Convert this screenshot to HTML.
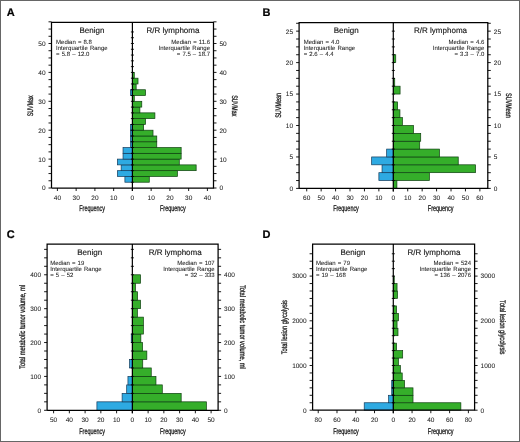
<!DOCTYPE html>
<html><head><meta charset="utf-8"><style>
html,body{margin:0;padding:0;background:#fff;}
svg{display:block;will-change:transform;}
text{font-family:"Liberation Sans", sans-serif;fill:#1a1a1a;stroke:#1a1a1a;stroke-width:0.15px;text-rendering:geometricPrecision;}
.t{font-size:6.5px;stroke-width:0.05px;}
.s{font-size:6px;word-spacing:0.45px;stroke-width:0.05px;}
.h{font-size:8px;}
.c{font-size:8.3px;stroke-width:0.3px;}
.yt{font-size:8px;stroke-width:0.3px;}
.L{font-size:11px;font-weight:bold;fill:#000;stroke:#000;stroke-width:0.2px;}
</style></head><body>
<svg width="520" height="442" viewBox="0 0 520 442">
<defs><filter id="bl" x="0" y="0" width="520" height="442" filterUnits="userSpaceOnUse"><feGaussianBlur stdDeviation="0.25"/></filter></defs>
<g filter="url(#bl)">
<rect x="0.5" y="0.5" width="519" height="441" fill="#fff" stroke="#666" stroke-width="1"/>
<rect x="124.9" y="176.44" width="7.5" height="5.78" fill="#2eaae2" stroke="#143a5a" stroke-width="0.7"/>
<rect x="117.4" y="170.66" width="15" height="5.78" fill="#2eaae2" stroke="#143a5a" stroke-width="0.7"/>
<rect x="121.15" y="164.88" width="11.25" height="5.78" fill="#2eaae2" stroke="#143a5a" stroke-width="0.7"/>
<rect x="117.4" y="159.1" width="15" height="5.78" fill="#2eaae2" stroke="#143a5a" stroke-width="0.7"/>
<rect x="123.03" y="153.32" width="9.38" height="5.78" fill="#2eaae2" stroke="#143a5a" stroke-width="0.7"/>
<rect x="123.03" y="147.54" width="9.38" height="5.78" fill="#2eaae2" stroke="#143a5a" stroke-width="0.7"/>
<rect x="130.53" y="141.76" width="1.88" height="5.78" fill="#2eaae2" stroke="#143a5a" stroke-width="0.7"/>
<rect x="130.53" y="135.98" width="1.88" height="5.78" fill="#2eaae2" stroke="#143a5a" stroke-width="0.7"/>
<rect x="130.53" y="130.2" width="1.88" height="5.78" fill="#2eaae2" stroke="#143a5a" stroke-width="0.7"/>
<rect x="130.53" y="124.42" width="1.88" height="5.78" fill="#2eaae2" stroke="#143a5a" stroke-width="0.7"/>
<rect x="130.53" y="89.74" width="1.88" height="5.78" fill="#2eaae2" stroke="#143a5a" stroke-width="0.7"/>
<rect x="132.4" y="176.44" width="16.88" height="5.78" fill="#34ae2c" stroke="#0f3f0f" stroke-width="0.7"/>
<rect x="132.4" y="170.66" width="45" height="5.78" fill="#34ae2c" stroke="#0f3f0f" stroke-width="0.7"/>
<rect x="132.4" y="164.88" width="63.75" height="5.78" fill="#34ae2c" stroke="#0f3f0f" stroke-width="0.7"/>
<rect x="132.4" y="159.1" width="46.88" height="5.78" fill="#34ae2c" stroke="#0f3f0f" stroke-width="0.7"/>
<rect x="132.4" y="153.32" width="48.75" height="5.78" fill="#34ae2c" stroke="#0f3f0f" stroke-width="0.7"/>
<rect x="132.4" y="147.54" width="48.75" height="5.78" fill="#34ae2c" stroke="#0f3f0f" stroke-width="0.7"/>
<rect x="132.4" y="141.76" width="24.38" height="5.78" fill="#34ae2c" stroke="#0f3f0f" stroke-width="0.7"/>
<rect x="132.4" y="135.98" width="24.38" height="5.78" fill="#34ae2c" stroke="#0f3f0f" stroke-width="0.7"/>
<rect x="132.4" y="130.2" width="20.62" height="5.78" fill="#34ae2c" stroke="#0f3f0f" stroke-width="0.7"/>
<rect x="132.4" y="124.42" width="11.25" height="5.78" fill="#34ae2c" stroke="#0f3f0f" stroke-width="0.7"/>
<rect x="132.4" y="118.64" width="13.12" height="5.78" fill="#34ae2c" stroke="#0f3f0f" stroke-width="0.7"/>
<rect x="132.4" y="112.86" width="22.5" height="5.78" fill="#34ae2c" stroke="#0f3f0f" stroke-width="0.7"/>
<rect x="132.4" y="107.08" width="7.5" height="5.78" fill="#34ae2c" stroke="#0f3f0f" stroke-width="0.7"/>
<rect x="132.4" y="101.3" width="9.38" height="5.78" fill="#34ae2c" stroke="#0f3f0f" stroke-width="0.7"/>
<rect x="132.4" y="95.52" width="1.88" height="5.78" fill="#34ae2c" stroke="#0f3f0f" stroke-width="0.7"/>
<rect x="132.4" y="89.74" width="13.12" height="5.78" fill="#34ae2c" stroke="#0f3f0f" stroke-width="0.7"/>
<rect x="132.4" y="83.96" width="3.75" height="5.78" fill="#34ae2c" stroke="#0f3f0f" stroke-width="0.7"/>
<rect x="132.4" y="78.18" width="5.62" height="5.78" fill="#34ae2c" stroke="#0f3f0f" stroke-width="0.7"/>
<rect x="132.4" y="72.4" width="1.88" height="5.78" fill="#34ae2c" stroke="#0f3f0f" stroke-width="0.7"/>
<path d="M51.5 188V22.3H213.5V188H51.5" fill="none" stroke="#000" stroke-width="1.25"/>
<path d="M132.4 22.3V191" fill="none" stroke="#000" stroke-width="1.2"/>
<path d="M48.5 188H51.5M213.5 188H216.5M48.5 180.78H51.5M213.5 180.78H216.5M48.5 173.55H51.5M213.5 173.55H216.5M48.5 166.32H51.5M213.5 166.32H216.5M48.5 159.1H51.5M213.5 159.1H216.5M48.5 151.88H51.5M213.5 151.88H216.5M48.5 144.65H51.5M213.5 144.65H216.5M48.5 137.43H51.5M213.5 137.43H216.5M48.5 130.2H51.5M213.5 130.2H216.5M48.5 122.97H51.5M213.5 122.97H216.5M48.5 115.75H51.5M213.5 115.75H216.5M48.5 108.52H51.5M213.5 108.52H216.5M48.5 101.3H51.5M213.5 101.3H216.5M48.5 94.08H51.5M213.5 94.08H216.5M48.5 86.85H51.5M213.5 86.85H216.5M48.5 79.62H51.5M213.5 79.62H216.5M48.5 72.4H51.5M213.5 72.4H216.5M48.5 65.17H51.5M213.5 65.17H216.5M48.5 57.95H51.5M213.5 57.95H216.5M48.5 50.72H51.5M213.5 50.72H216.5M48.5 43.5H51.5M213.5 43.5H216.5M48.5 36.28H51.5M213.5 36.28H216.5M48.5 29.05H51.5M213.5 29.05H216.5M48.5 21.82H51.5M213.5 21.82H216.5M130.9 182.22H133.9M130.9 176.44H133.9M130.9 170.66H133.9M130.9 164.88H133.9M130.9 159.1H133.9M130.9 153.32H133.9M130.9 147.54H133.9M130.9 141.76H133.9M130.9 135.98H133.9M130.9 130.2H133.9M130.9 124.42H133.9M130.9 118.64H133.9M130.9 112.86H133.9M130.9 107.08H133.9M130.9 101.3H133.9M130.9 95.52H133.9M130.9 89.74H133.9M130.9 83.96H133.9M130.9 78.18H133.9M130.9 72.4H133.9M130.9 66.62H133.9M130.9 60.84H133.9M130.9 55.06H133.9M130.9 49.28H133.9M130.9 43.5H133.9M130.9 37.72H133.9M130.9 31.94H133.9M57.4 188V191M76.15 188V191M94.9 188V191M113.65 188V191M132.4 188V191M151.15 188V191M169.9 188V191M188.65 188V191M207.4 188V191" fill="none" stroke="#000" stroke-width="0.9"/>
<text x="45.5" y="190" text-anchor="end" class="t">0</text>
<text x="219.5" y="190" class="t">0</text>
<text x="45.5" y="162" text-anchor="end" class="t">10</text>
<text x="219.5" y="162" class="t">10</text>
<text x="45.5" y="133" text-anchor="end" class="t">20</text>
<text x="219.5" y="133" class="t">20</text>
<text x="45.5" y="104" text-anchor="end" class="t">30</text>
<text x="219.5" y="104" class="t">30</text>
<text x="45.5" y="75" text-anchor="end" class="t">40</text>
<text x="219.5" y="75" class="t">40</text>
<text x="45.5" y="46" text-anchor="end" class="t">50</text>
<text x="219.5" y="46" class="t">50</text>
<text x="57.4" y="199.85" text-anchor="middle" class="t">40</text>
<text x="76.15" y="199.85" text-anchor="middle" class="t">30</text>
<text x="94.9" y="199.85" text-anchor="middle" class="t">20</text>
<text x="113.65" y="199.85" text-anchor="middle" class="t">10</text>
<text x="132.4" y="199.85" text-anchor="middle" class="t">0</text>
<text x="151.15" y="199.85" text-anchor="middle" class="t">10</text>
<text x="169.9" y="199.85" text-anchor="middle" class="t">20</text>
<text x="188.65" y="199.85" text-anchor="middle" class="t">30</text>
<text x="207.4" y="199.85" text-anchor="middle" class="t">40</text>
<text x="92.1" y="211.4" text-anchor="middle" class="c" textLength="25.7" lengthAdjust="spacingAndGlyphs">Frequency</text>
<text x="172.9" y="211.4" text-anchor="middle" class="c" textLength="25.7" lengthAdjust="spacingAndGlyphs">Frequency</text>
<text x="91.95" y="33.1" text-anchor="middle" class="h">Benign</text>
<text x="172.95" y="33.1" text-anchor="middle" class="h">R/R lymphoma</text>
<text x="56.1" y="43.6" class="s">Median = 8.8</text>
<text x="56.1" y="49.9" class="s">Interquartile Range</text>
<text x="56.1" y="56.2" class="s">= 5.8 – 12.0</text>
<text x="210" y="43.6" text-anchor="end" class="s">Median = 11.6</text>
<text x="210" y="49.9" text-anchor="end" class="s">Interquartile Range</text>
<text x="210" y="56.2" text-anchor="end" class="s">= 7.5 – 18.7</text>
<text transform="translate(33.3 105.8) rotate(-90)" text-anchor="middle" class="yt" textLength="21" lengthAdjust="spacingAndGlyphs">SUVMax</text>
<text transform="translate(231.7 105.8) rotate(90)" text-anchor="middle" class="yt" textLength="21" lengthAdjust="spacingAndGlyphs">SUVMax</text>
<text x="6.8" y="15.8" class="L">A</text>
<rect x="378.87" y="172.68" width="14.43" height="7.86" fill="#2eaae2" stroke="#143a5a" stroke-width="0.7"/>
<rect x="382.04" y="164.81" width="11.26" height="7.86" fill="#2eaae2" stroke="#143a5a" stroke-width="0.7"/>
<rect x="371.66" y="156.95" width="21.64" height="7.86" fill="#2eaae2" stroke="#143a5a" stroke-width="0.7"/>
<rect x="386.66" y="149.09" width="6.64" height="7.86" fill="#2eaae2" stroke="#143a5a" stroke-width="0.7"/>
<rect x="393.3" y="180.54" width="3.61" height="7.86" fill="#34ae2c" stroke="#0f3f0f" stroke-width="0.7"/>
<rect x="393.3" y="172.68" width="36.08" height="7.86" fill="#34ae2c" stroke="#0f3f0f" stroke-width="0.7"/>
<rect x="393.3" y="164.81" width="82.25" height="7.86" fill="#34ae2c" stroke="#0f3f0f" stroke-width="0.7"/>
<rect x="393.3" y="156.95" width="64.94" height="7.86" fill="#34ae2c" stroke="#0f3f0f" stroke-width="0.7"/>
<rect x="393.3" y="149.09" width="46.18" height="7.86" fill="#34ae2c" stroke="#0f3f0f" stroke-width="0.7"/>
<rect x="393.3" y="141.23" width="26.41" height="7.86" fill="#34ae2c" stroke="#0f3f0f" stroke-width="0.7"/>
<rect x="393.3" y="133.36" width="27.42" height="7.86" fill="#34ae2c" stroke="#0f3f0f" stroke-width="0.7"/>
<rect x="393.3" y="125.5" width="20.2" height="7.86" fill="#34ae2c" stroke="#0f3f0f" stroke-width="0.7"/>
<rect x="393.3" y="117.64" width="9.09" height="7.86" fill="#34ae2c" stroke="#0f3f0f" stroke-width="0.7"/>
<rect x="393.3" y="109.78" width="6.64" height="7.86" fill="#34ae2c" stroke="#0f3f0f" stroke-width="0.7"/>
<rect x="393.3" y="101.91" width="4.33" height="7.86" fill="#34ae2c" stroke="#0f3f0f" stroke-width="0.7"/>
<rect x="393.3" y="86.19" width="6.78" height="7.86" fill="#34ae2c" stroke="#0f3f0f" stroke-width="0.7"/>
<rect x="393.3" y="78.33" width="1.44" height="7.86" fill="#34ae2c" stroke="#0f3f0f" stroke-width="0.7"/>
<rect x="393.3" y="54.74" width="2.45" height="7.86" fill="#34ae2c" stroke="#0f3f0f" stroke-width="0.7"/>
<path d="M299.1 188.4V22.5H487.8V188.4H299.1" fill="none" stroke="#000" stroke-width="1.25"/>
<path d="M393.3 22.5V191.4" fill="none" stroke="#000" stroke-width="1.2"/>
<path d="M296.1 188.4H299.1M487.8 188.4H490.8M296.1 180.54H299.1M487.8 180.54H490.8M296.1 172.68H299.1M487.8 172.68H490.8M296.1 164.81H299.1M487.8 164.81H490.8M296.1 156.95H299.1M487.8 156.95H490.8M296.1 149.09H299.1M487.8 149.09H490.8M296.1 141.23H299.1M487.8 141.23H490.8M296.1 133.36H299.1M487.8 133.36H490.8M296.1 125.5H299.1M487.8 125.5H490.8M296.1 117.64H299.1M487.8 117.64H490.8M296.1 109.78H299.1M487.8 109.78H490.8M296.1 101.91H299.1M487.8 101.91H490.8M296.1 94.05H299.1M487.8 94.05H490.8M296.1 86.19H299.1M487.8 86.19H490.8M296.1 78.33H299.1M487.8 78.33H490.8M296.1 70.46H299.1M487.8 70.46H490.8M296.1 62.6H299.1M487.8 62.6H490.8M296.1 54.74H299.1M487.8 54.74H490.8M296.1 46.88H299.1M487.8 46.88H490.8M296.1 39.01H299.1M487.8 39.01H490.8M296.1 31.15H299.1M487.8 31.15H490.8M296.1 23.29H299.1M487.8 23.29H490.8M391.8 180.54H394.8M391.8 172.68H394.8M391.8 164.81H394.8M391.8 156.95H394.8M391.8 149.09H394.8M391.8 141.23H394.8M391.8 133.36H394.8M391.8 125.5H394.8M391.8 117.64H394.8M391.8 109.78H394.8M391.8 101.91H394.8M391.8 94.05H394.8M391.8 86.19H394.8M391.8 78.33H394.8M391.8 70.46H394.8M391.8 62.6H394.8M391.8 54.74H394.8M391.8 46.88H394.8M391.8 39.01H394.8M391.8 31.15H394.8M306.72 188.4V191.4M321.15 188.4V191.4M335.58 188.4V191.4M350.01 188.4V191.4M364.44 188.4V191.4M378.87 188.4V191.4M393.3 188.4V191.4M407.73 188.4V191.4M422.16 188.4V191.4M436.59 188.4V191.4M451.02 188.4V191.4M465.45 188.4V191.4M479.88 188.4V191.4" fill="none" stroke="#000" stroke-width="0.9"/>
<text x="293.1" y="191" text-anchor="end" class="t">0</text>
<text x="493.8" y="191" class="t">0</text>
<text x="293.1" y="159" text-anchor="end" class="t">5</text>
<text x="493.8" y="159" class="t">5</text>
<text x="293.1" y="128" text-anchor="end" class="t">10</text>
<text x="493.8" y="128" class="t">10</text>
<text x="293.1" y="96" text-anchor="end" class="t">15</text>
<text x="493.8" y="96" class="t">15</text>
<text x="293.1" y="65" text-anchor="end" class="t">20</text>
<text x="493.8" y="65" class="t">20</text>
<text x="293.1" y="34" text-anchor="end" class="t">25</text>
<text x="493.8" y="34" class="t">25</text>
<text x="306.72" y="200.25" text-anchor="middle" class="t">60</text>
<text x="321.15" y="200.25" text-anchor="middle" class="t">50</text>
<text x="335.58" y="200.25" text-anchor="middle" class="t">40</text>
<text x="350.01" y="200.25" text-anchor="middle" class="t">30</text>
<text x="364.44" y="200.25" text-anchor="middle" class="t">20</text>
<text x="378.87" y="200.25" text-anchor="middle" class="t">10</text>
<text x="393.3" y="200.25" text-anchor="middle" class="t">0</text>
<text x="407.73" y="200.25" text-anchor="middle" class="t">10</text>
<text x="422.16" y="200.25" text-anchor="middle" class="t">20</text>
<text x="436.59" y="200.25" text-anchor="middle" class="t">30</text>
<text x="451.02" y="200.25" text-anchor="middle" class="t">40</text>
<text x="465.45" y="200.25" text-anchor="middle" class="t">50</text>
<text x="479.88" y="200.25" text-anchor="middle" class="t">60</text>
<text x="346" y="211.4" text-anchor="middle" class="c" textLength="25.7" lengthAdjust="spacingAndGlyphs">Frequency</text>
<text x="440.7" y="211.4" text-anchor="middle" class="c" textLength="25.7" lengthAdjust="spacingAndGlyphs">Frequency</text>
<text x="346.2" y="33.3" text-anchor="middle" class="h">Benign</text>
<text x="440.55" y="33.3" text-anchor="middle" class="h">R/R lymphoma</text>
<text x="303.7" y="43.8" class="s">Median = 4.0</text>
<text x="303.7" y="50.1" class="s">Interquartile Range</text>
<text x="303.7" y="56.4" class="s">= 2.6 – 4.4</text>
<text x="484.3" y="43.8" text-anchor="end" class="s">Median = 4.6</text>
<text x="484.3" y="50.1" text-anchor="end" class="s">Interquartile Range</text>
<text x="484.3" y="56.4" text-anchor="end" class="s">= 3.3 – 7.0</text>
<text transform="translate(280.7 105.4) rotate(-90)" text-anchor="middle" class="yt" textLength="24.8" lengthAdjust="spacingAndGlyphs">SUVMean</text>
<text transform="translate(506 105.4) rotate(90)" text-anchor="middle" class="yt" textLength="24.8" lengthAdjust="spacingAndGlyphs">SUVMean</text>
<text x="262.6" y="15.8" class="L">B</text>
<rect x="96.91" y="401.83" width="35.44" height="8.47" fill="#2eaae2" stroke="#143a5a" stroke-width="0.7"/>
<rect x="122.11" y="393.36" width="10.24" height="8.47" fill="#2eaae2" stroke="#143a5a" stroke-width="0.7"/>
<rect x="126.68" y="384.89" width="5.67" height="8.47" fill="#2eaae2" stroke="#143a5a" stroke-width="0.7"/>
<rect x="127.94" y="376.42" width="4.41" height="8.47" fill="#2eaae2" stroke="#143a5a" stroke-width="0.7"/>
<rect x="129.51" y="359.48" width="2.83" height="8.47" fill="#2eaae2" stroke="#143a5a" stroke-width="0.7"/>
<rect x="131.25" y="334.07" width="1.1" height="8.47" fill="#2eaae2" stroke="#143a5a" stroke-width="0.7"/>
<rect x="132.35" y="401.83" width="74.02" height="8.47" fill="#34ae2c" stroke="#0f3f0f" stroke-width="0.7"/>
<rect x="132.35" y="393.36" width="48.82" height="8.47" fill="#34ae2c" stroke="#0f3f0f" stroke-width="0.7"/>
<rect x="132.35" y="384.89" width="29.93" height="8.47" fill="#34ae2c" stroke="#0f3f0f" stroke-width="0.7"/>
<rect x="132.35" y="376.42" width="23.62" height="8.47" fill="#34ae2c" stroke="#0f3f0f" stroke-width="0.7"/>
<rect x="132.35" y="367.95" width="18.9" height="8.47" fill="#34ae2c" stroke="#0f3f0f" stroke-width="0.7"/>
<rect x="132.35" y="359.48" width="10.39" height="8.47" fill="#34ae2c" stroke="#0f3f0f" stroke-width="0.7"/>
<rect x="132.35" y="351.01" width="14.49" height="8.47" fill="#34ae2c" stroke="#0f3f0f" stroke-width="0.7"/>
<rect x="132.35" y="342.54" width="10.24" height="8.47" fill="#34ae2c" stroke="#0f3f0f" stroke-width="0.7"/>
<rect x="132.35" y="334.07" width="8.51" height="8.47" fill="#34ae2c" stroke="#0f3f0f" stroke-width="0.7"/>
<rect x="132.35" y="325.6" width="11.03" height="8.47" fill="#34ae2c" stroke="#0f3f0f" stroke-width="0.7"/>
<rect x="132.35" y="317.13" width="11.03" height="8.47" fill="#34ae2c" stroke="#0f3f0f" stroke-width="0.7"/>
<rect x="132.35" y="308.66" width="5.04" height="8.47" fill="#34ae2c" stroke="#0f3f0f" stroke-width="0.7"/>
<rect x="132.35" y="300.19" width="8.19" height="8.47" fill="#34ae2c" stroke="#0f3f0f" stroke-width="0.7"/>
<rect x="132.35" y="291.72" width="5.2" height="8.47" fill="#34ae2c" stroke="#0f3f0f" stroke-width="0.7"/>
<rect x="132.35" y="283.25" width="3.15" height="8.47" fill="#34ae2c" stroke="#0f3f0f" stroke-width="0.7"/>
<rect x="132.35" y="274.78" width="8.19" height="8.47" fill="#34ae2c" stroke="#0f3f0f" stroke-width="0.7"/>
<path d="M47.1 410.3V244H218.1V410.3H47.1" fill="none" stroke="#000" stroke-width="1.25"/>
<path d="M132.35 244V413.3" fill="none" stroke="#000" stroke-width="1.2"/>
<path d="M44.1 410.3H47.1M218.1 410.3H221.1M44.1 401.83H47.1M218.1 401.83H221.1M44.1 393.36H47.1M218.1 393.36H221.1M44.1 384.89H47.1M218.1 384.89H221.1M44.1 376.42H47.1M218.1 376.42H221.1M44.1 367.95H47.1M218.1 367.95H221.1M44.1 359.48H47.1M218.1 359.48H221.1M44.1 351.01H47.1M218.1 351.01H221.1M44.1 342.54H47.1M218.1 342.54H221.1M44.1 334.07H47.1M218.1 334.07H221.1M44.1 325.6H47.1M218.1 325.6H221.1M44.1 317.13H47.1M218.1 317.13H221.1M44.1 308.66H47.1M218.1 308.66H221.1M44.1 300.19H47.1M218.1 300.19H221.1M44.1 291.72H47.1M218.1 291.72H221.1M44.1 283.25H47.1M218.1 283.25H221.1M44.1 274.78H47.1M218.1 274.78H221.1M44.1 266.31H47.1M218.1 266.31H221.1M44.1 257.84H47.1M218.1 257.84H221.1M44.1 249.37H47.1M218.1 249.37H221.1M130.85 401.83H133.85M130.85 393.36H133.85M130.85 384.89H133.85M130.85 376.42H133.85M130.85 367.95H133.85M130.85 359.48H133.85M130.85 351.01H133.85M130.85 342.54H133.85M130.85 334.07H133.85M130.85 325.6H133.85M130.85 317.13H133.85M130.85 308.66H133.85M130.85 300.19H133.85M130.85 291.72H133.85M130.85 283.25H133.85M130.85 274.78H133.85M130.85 266.31H133.85M130.85 257.84H133.85M130.85 249.37H133.85M53.6 410.3V413.3M69.35 410.3V413.3M85.1 410.3V413.3M100.85 410.3V413.3M116.6 410.3V413.3M132.35 410.3V413.3M148.1 410.3V413.3M163.85 410.3V413.3M179.6 410.3V413.3M195.35 410.3V413.3M211.1 410.3V413.3" fill="none" stroke="#000" stroke-width="0.9"/>
<text x="41.1" y="413" text-anchor="end" class="t">0</text>
<text x="224.1" y="413" class="t">0</text>
<text x="41.1" y="379" text-anchor="end" class="t">100</text>
<text x="224.1" y="379" class="t">100</text>
<text x="41.1" y="345" text-anchor="end" class="t">200</text>
<text x="224.1" y="345" class="t">200</text>
<text x="41.1" y="311" text-anchor="end" class="t">300</text>
<text x="224.1" y="311" class="t">300</text>
<text x="41.1" y="277" text-anchor="end" class="t">400</text>
<text x="224.1" y="277" class="t">400</text>
<text x="53.6" y="422.15" text-anchor="middle" class="t">50</text>
<text x="69.35" y="422.15" text-anchor="middle" class="t">40</text>
<text x="85.1" y="422.15" text-anchor="middle" class="t">30</text>
<text x="100.85" y="422.15" text-anchor="middle" class="t">20</text>
<text x="116.6" y="422.15" text-anchor="middle" class="t">10</text>
<text x="132.35" y="422.15" text-anchor="middle" class="t">0</text>
<text x="148.1" y="422.15" text-anchor="middle" class="t">10</text>
<text x="163.85" y="422.15" text-anchor="middle" class="t">20</text>
<text x="179.6" y="422.15" text-anchor="middle" class="t">30</text>
<text x="195.35" y="422.15" text-anchor="middle" class="t">40</text>
<text x="211.1" y="422.15" text-anchor="middle" class="t">50</text>
<text x="92.1" y="433.5" text-anchor="middle" class="c" textLength="25.7" lengthAdjust="spacingAndGlyphs">Frequency</text>
<text x="172.9" y="433.5" text-anchor="middle" class="c" textLength="25.7" lengthAdjust="spacingAndGlyphs">Frequency</text>
<text x="89.72" y="254.8" text-anchor="middle" class="h">Benign</text>
<text x="175.22" y="254.8" text-anchor="middle" class="h">R/R lymphoma</text>
<text x="50.2" y="264.5" class="s">Median = 19</text>
<text x="50.2" y="270.6" class="s">Interquartile Range</text>
<text x="50.2" y="276.7" class="s">= 5 – 52</text>
<text x="214.7" y="264.5" text-anchor="end" class="s">Median = 107</text>
<text x="214.7" y="270.6" text-anchor="end" class="s">Interquartile Range</text>
<text x="214.7" y="276.7" text-anchor="end" class="s">= 32 – 333</text>
<text transform="translate(24.9 326.9) rotate(-90)" text-anchor="middle" class="yt" textLength="84" lengthAdjust="spacingAndGlyphs">Total metabolic tumor volume, ml</text>
<text transform="translate(240.3 326.9) rotate(90)" text-anchor="middle" class="yt" textLength="84" lengthAdjust="spacingAndGlyphs">Total metabolic tumor volume, ml</text>
<text x="6.8" y="237.8" class="L">C</text>
<rect x="364.21" y="402.75" width="29.09" height="7.45" fill="#2eaae2" stroke="#143a5a" stroke-width="0.7"/>
<rect x="388.61" y="395.3" width="4.69" height="7.45" fill="#2eaae2" stroke="#143a5a" stroke-width="0.7"/>
<rect x="391.7" y="387.85" width="1.6" height="7.45" fill="#2eaae2" stroke="#143a5a" stroke-width="0.7"/>
<rect x="391.7" y="380.4" width="1.6" height="7.45" fill="#2eaae2" stroke="#143a5a" stroke-width="0.7"/>
<rect x="393.3" y="402.75" width="67.57" height="7.45" fill="#34ae2c" stroke="#0f3f0f" stroke-width="0.7"/>
<rect x="393.3" y="395.3" width="19.71" height="7.45" fill="#34ae2c" stroke="#0f3f0f" stroke-width="0.7"/>
<rect x="393.3" y="387.85" width="19.71" height="7.45" fill="#34ae2c" stroke="#0f3f0f" stroke-width="0.7"/>
<rect x="393.3" y="380.4" width="11.26" height="7.45" fill="#34ae2c" stroke="#0f3f0f" stroke-width="0.7"/>
<rect x="393.3" y="372.95" width="8.92" height="7.45" fill="#34ae2c" stroke="#0f3f0f" stroke-width="0.7"/>
<rect x="393.3" y="365.5" width="7.04" height="7.45" fill="#34ae2c" stroke="#0f3f0f" stroke-width="0.7"/>
<rect x="393.3" y="358.05" width="5.16" height="7.45" fill="#34ae2c" stroke="#0f3f0f" stroke-width="0.7"/>
<rect x="393.3" y="350.6" width="9.38" height="7.45" fill="#34ae2c" stroke="#0f3f0f" stroke-width="0.7"/>
<rect x="393.3" y="343.15" width="3.28" height="7.45" fill="#34ae2c" stroke="#0f3f0f" stroke-width="0.7"/>
<rect x="393.3" y="328.25" width="4.69" height="7.45" fill="#34ae2c" stroke="#0f3f0f" stroke-width="0.7"/>
<rect x="393.3" y="320.8" width="3.75" height="7.45" fill="#34ae2c" stroke="#0f3f0f" stroke-width="0.7"/>
<rect x="393.3" y="313.35" width="5.16" height="7.45" fill="#34ae2c" stroke="#0f3f0f" stroke-width="0.7"/>
<rect x="393.3" y="305.9" width="3.28" height="7.45" fill="#34ae2c" stroke="#0f3f0f" stroke-width="0.7"/>
<rect x="393.3" y="291" width="4.22" height="7.45" fill="#34ae2c" stroke="#0f3f0f" stroke-width="0.7"/>
<rect x="393.3" y="283.55" width="3.75" height="7.45" fill="#34ae2c" stroke="#0f3f0f" stroke-width="0.7"/>
<rect x="393.3" y="276.1" width="0.94" height="7.45" fill="#34ae2c" stroke="#0f3f0f" stroke-width="0.7"/>
<path d="M312.6 410.2V244H474.6V410.2H312.6" fill="none" stroke="#000" stroke-width="1.25"/>
<path d="M393.3 244V413.2" fill="none" stroke="#000" stroke-width="1.2"/>
<path d="M309.6 410.2H312.6M474.6 410.2H477.6M309.6 402.75H312.6M474.6 402.75H477.6M309.6 395.3H312.6M474.6 395.3H477.6M309.6 387.85H312.6M474.6 387.85H477.6M309.6 380.4H312.6M474.6 380.4H477.6M309.6 372.95H312.6M474.6 372.95H477.6M309.6 365.5H312.6M474.6 365.5H477.6M309.6 358.05H312.6M474.6 358.05H477.6M309.6 350.6H312.6M474.6 350.6H477.6M309.6 343.15H312.6M474.6 343.15H477.6M309.6 335.7H312.6M474.6 335.7H477.6M309.6 328.25H312.6M474.6 328.25H477.6M309.6 320.8H312.6M474.6 320.8H477.6M309.6 313.35H312.6M474.6 313.35H477.6M309.6 305.9H312.6M474.6 305.9H477.6M309.6 298.45H312.6M474.6 298.45H477.6M309.6 291H312.6M474.6 291H477.6M309.6 283.55H312.6M474.6 283.55H477.6M309.6 276.1H312.6M474.6 276.1H477.6M309.6 268.65H312.6M474.6 268.65H477.6M309.6 261.2H312.6M474.6 261.2H477.6M309.6 253.75H312.6M474.6 253.75H477.6M391.8 402.75H394.8M391.8 395.3H394.8M391.8 387.85H394.8M391.8 380.4H394.8M391.8 372.95H394.8M391.8 365.5H394.8M391.8 358.05H394.8M391.8 350.6H394.8M391.8 343.15H394.8M391.8 335.7H394.8M391.8 328.25H394.8M391.8 320.8H394.8M391.8 313.35H394.8M391.8 305.9H394.8M391.8 298.45H394.8M391.8 291H394.8M391.8 283.55H394.8M391.8 276.1H394.8M391.8 268.65H394.8M391.8 261.2H394.8M391.8 253.75H394.8M318.22 410.2V413.2M336.99 410.2V413.2M355.76 410.2V413.2M374.53 410.2V413.2M393.3 410.2V413.2M412.07 410.2V413.2M430.84 410.2V413.2M449.61 410.2V413.2M468.38 410.2V413.2" fill="none" stroke="#000" stroke-width="0.9"/>
<text x="306.6" y="413" text-anchor="end" class="t">0</text>
<text x="480.6" y="413" class="t">0</text>
<text x="306.6" y="368" text-anchor="end" class="t">1000</text>
<text x="480.6" y="368" class="t">1000</text>
<text x="306.6" y="323" text-anchor="end" class="t">2000</text>
<text x="480.6" y="323" class="t">2000</text>
<text x="306.6" y="278" text-anchor="end" class="t">3000</text>
<text x="480.6" y="278" class="t">3000</text>
<text x="318.22" y="422.05" text-anchor="middle" class="t">80</text>
<text x="336.99" y="422.05" text-anchor="middle" class="t">60</text>
<text x="355.76" y="422.05" text-anchor="middle" class="t">40</text>
<text x="374.53" y="422.05" text-anchor="middle" class="t">20</text>
<text x="393.3" y="422.05" text-anchor="middle" class="t">0</text>
<text x="412.07" y="422.05" text-anchor="middle" class="t">20</text>
<text x="430.84" y="422.05" text-anchor="middle" class="t">40</text>
<text x="449.61" y="422.05" text-anchor="middle" class="t">60</text>
<text x="468.38" y="422.05" text-anchor="middle" class="t">80</text>
<text x="346" y="433.5" text-anchor="middle" class="c" textLength="25.7" lengthAdjust="spacingAndGlyphs">Frequency</text>
<text x="440.7" y="433.5" text-anchor="middle" class="c" textLength="25.7" lengthAdjust="spacingAndGlyphs">Frequency</text>
<text x="352.95" y="254.8" text-anchor="middle" class="h">Benign</text>
<text x="433.95" y="254.8" text-anchor="middle" class="h">R/R lymphoma</text>
<text x="315.9" y="264.5" class="s">Median = 79</text>
<text x="315.9" y="270.6" class="s">Interquartile Range</text>
<text x="315.9" y="276.7" class="s">= 19 – 168</text>
<text x="471" y="264.5" text-anchor="end" class="s">Median = 524</text>
<text x="471" y="270.6" text-anchor="end" class="s">Interquartile Range</text>
<text x="471" y="276.7" text-anchor="end" class="s">= 136 – 2076</text>
<text transform="translate(287.2 327.2) rotate(-90)" text-anchor="middle" class="yt" textLength="54.3" lengthAdjust="spacingAndGlyphs">Total lesion glycolysis</text>
<text transform="translate(499.8 327.2) rotate(90)" text-anchor="middle" class="yt" textLength="54.3" lengthAdjust="spacingAndGlyphs">Total lesion glycolysis</text>
<text x="262.6" y="237.8" class="L">D</text>
</g>
</svg>
</body></html>
